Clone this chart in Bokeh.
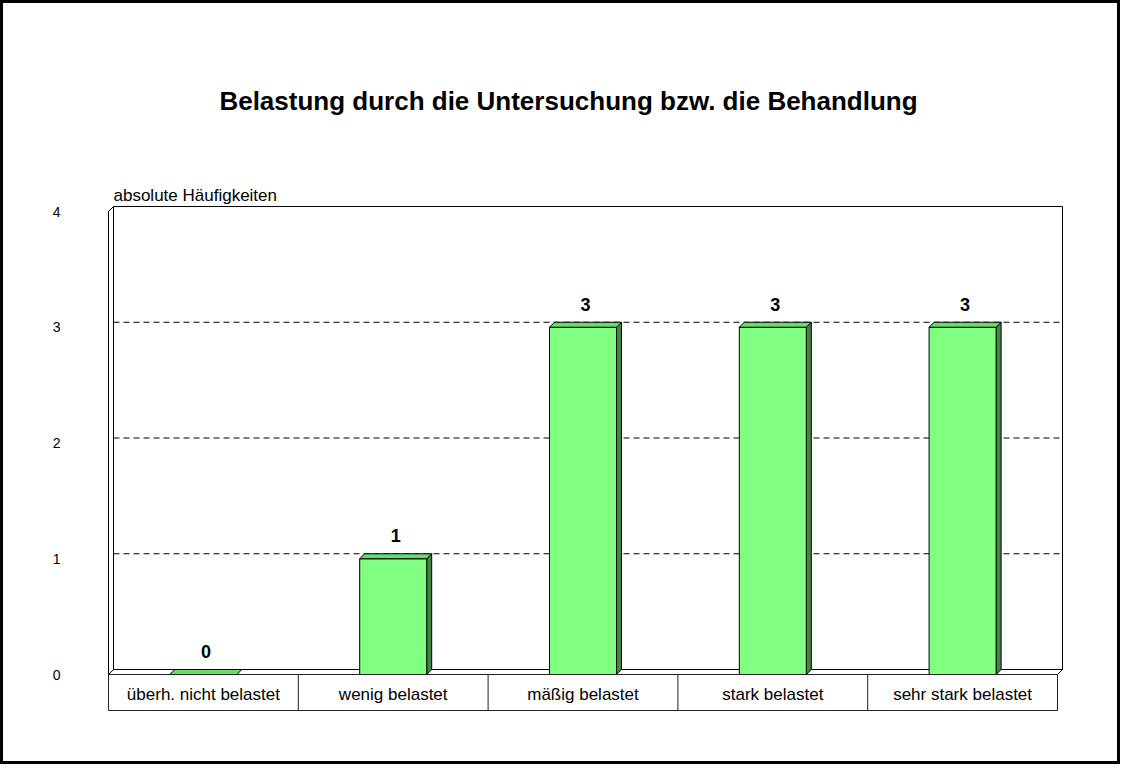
from bokeh.plotting import figure
from bokeh.models import Range1d, FixedTicker, ColumnDataSource
from bokeh.core.properties import value
from bokeh.embed import file_html
from bokeh.resources import INLINE

# ---------------- data ----------------
categories = ["überh. nicht belastet", "wenig belastet", "mäßig belastet",
              "stark belastet", "sehr stark belastet"]
counts = [0, 1, 3, 3, 3]
y_ticks = [0, 1, 2, 3, 4]
grid_values = [1, 2, 3]
title_text = "Belastung durch die Untersuchung bzw. die Behandlung"
y_label = "absolute Häufigkeiten"

# ---------------- layout constants ----------------
W, H = 1120, 764
BORDER = 3
PAGE_OFF = 3
PX_X = 189.8          # pixels per category
PX_Y = 115.75         # pixels per count unit
X0_PAGE, Y0_PAGE = 108, 674
DX = 5 / PX_X         # 3d depth offset in data units
DY = 5 / PX_Y
BAR_W = 0.353
TABLE_H = 36 / PX_Y

FRAME_L, FRAME_R, FRAME_T, FRAME_B = 100, 1070, 60, 715


def px2x(px):
    return (px - X0_PAGE) / PX_X


def px2y(py):
    return (Y0_PAGE - py) / PX_Y


n = len(categories)
ymax = max(y_ticks)

p = figure(width=W, height=H, output_backend="svg", toolbar_location=None,
           x_range=Range1d(px2x(FRAME_L), px2x(FRAME_R)),
           y_range=Range1d(px2y(FRAME_B), px2y(FRAME_T)),
           min_border_left=FRAME_L - PAGE_OFF,
           min_border_right=W - (FRAME_R - PAGE_OFF),
           min_border_top=FRAME_T - PAGE_OFF,
           min_border_bottom=H - (FRAME_B - PAGE_OFF),
           background_fill_color="white", border_fill_color="white")
p.styles = {"border": f"{BORDER}px solid black"}
p.outline_line_color = None
p.xgrid.visible = False
p.ygrid.visible = False
p.xaxis.visible = False

ax = p.yaxis[0]
ax.ticker = FixedTicker(ticks=y_ticks)
ax.axis_line_color = None
ax.major_tick_line_color = None
ax.minor_tick_line_color = None
ax.major_tick_out = 0
ax.major_label_standoff = 40
ax.major_label_text_font = "Liberation Sans"
ax.major_label_text_font_size = "14px"
ax.major_label_text_color = "black"

# ---------------- walls & floor ----------------
# back wall
p.quad(left=[DX], right=[n + DX], bottom=[DY], top=[ymax + DY],
       fill_color="white", line_color="black", line_width=1)
# left wall
p.patch(x=[0, 0, DX, DX], y=[0, ymax, ymax + DY, DY],
        fill_color="white", line_color="black", line_width=1)
# floor
p.patch(x=[0, n, n + DX, DX], y=[0, 0, DY, DY],
        fill_color="white", line_color="black", line_width=1)

# gridlines on back wall
p.segment(x0=[DX] * len(grid_values), x1=[n + DX] * len(grid_values),
          y0=[g + DY for g in grid_values], y1=[g + DY for g in grid_values],
          line_color="black", line_width=1, line_dash="6 4")

# ---------------- bars ----------------
xl = [i + 0.5 - BAR_W / 2 for i in range(n)]
xr = [i + 0.5 + BAR_W / 2 for i in range(n)]

# side faces
side_xs = [[r, r, r + DX, r + DX] for r, v in zip(xr, counts) if v > 0]
side_ys = [[0, v, v + DY, DY] for v in counts if v > 0]
p.patches(xs=side_xs, ys=side_ys, fill_color="#3f8a3f", line_color="black",
          line_width=1)
# front faces
p.quad(left=xl, right=xr, bottom=[0] * n, top=counts,
       fill_color="#80ff80", line_color="black", line_width=1)
# top faces
top_xs = [[l, r, r + DX, l + DX] for l, r in zip(xl, xr)]
top_ys = [[v, v, v + DY, v + DY] for v in counts]
p.patches(xs=top_xs, ys=top_ys, fill_color="#66dd66", line_color="black",
          line_width=1)

# value labels
src = ColumnDataSource(dict(x=[i + 0.5 + DX / 2 for i in range(n)], y=counts,
                            t=[str(v) for v in counts]))
p.text(x="x", y="y", text="t", source=src, text_align="center",
       text_baseline="middle", y_offset=-23,
       text_font=value("Liberation Sans"), text_font_style="bold",
       text_font_size="18px", text_color="black")

# ---------------- category table ----------------
p.quad(left=[0], right=[n], bottom=[-TABLE_H], top=[0],
       fill_color="white", line_color="#222222", line_width=1)
p.segment(x0=list(range(1, n)), x1=list(range(1, n)),
          y0=[0] * (n - 1), y1=[-TABLE_H] * (n - 1),
          line_color="#222222", line_width=1)
p.text(x=[i + 0.5 for i in range(n)], y=[-TABLE_H / 2 - 2 / PX_Y] * n,
       text=categories, text_align="center", text_baseline="middle",
       text_font=value("Liberation Sans"), text_font_size="17px",
       text_color="black")

# ---------------- titles ----------------
p.text(x=[px2x(568)], y=[px2y(100)], text=[title_text], text_align="center",
       text_baseline="middle", text_font=value("Liberation Sans"),
       text_font_style="bold", text_font_size="26px", text_color="black")
p.text(x=[px2x(113)], y=[px2y(195)], text=[y_label], text_align="left",
       text_baseline="middle", text_font=value("Liberation Sans"),
       text_font_size="17px", text_color="black")

open("out.html", "w").write(file_html(p, INLINE))
